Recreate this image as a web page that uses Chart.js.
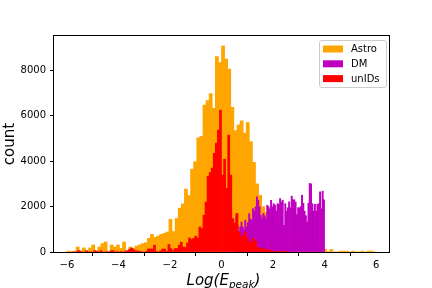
<!DOCTYPE html>
<html><head><meta charset="utf-8">
<script src="https://cdn.jsdelivr.net/npm/chart.js@4.4.0/dist/chart.umd.min.js"></script>
<style>html,body{margin:0;padding:0;background:#fff}#wrap{width:432px;height:288px;position:relative}</style>
</head><body><div id="wrap"><canvas id="c" width="432" height="288"></canvas></div>
<script>
const seriesLabels = ['Astro', 'DM', 'unIDs'];
const seriesColors = ['#FFA500', '#BF00BF', '#FF0000'];

const astroStart = -6.0, astroWidth = 0.12;
const astroCounts = [
  44, 0, 40, 220, 40, 180, 44, 180, 310, 40,
  220, 370, 440, 15, 310, 220, 310, 160, 440, 50,
  220, 160, 260, 310, 370, 410, 600, 780, 650, 700,
  780, 820, 880, 1440, 900, 1480, 1930, 2120, 2770, 2490,
  3650, 3980, 5030, 5100, 6480, 6670, 6980, 6330, 8610, 8350,
  9080, 8500, 8060, 6380, 5350, 5600, 5780, 5240, 5700, 4860,
  3950, 3000, 2500, 2000, 1750, 1500, 1350, 1250, 1150, 1050,
  950, 900, 820, 750, 680, 620, 560, 500, 450, 400,
  350, 300, 250, 120, 20, 110, 0, 0, 40, 40,
  40, 0, 40, 0, 0, 40, 0, 40, 40, 0
];

const dmStart = 0.5, dmWidth = 0.05;
const dmCounts = [
  1000, 1600, 1200, 900, 1100, 1320, 1100, 1000, 1400, 1100,
  1300, 1690, 1450, 1400, 1910, 1800, 1990, 2430, 2280, 2000,
  1620, 1470, 1700, 1600, 1470, 2060, 2000, 1900, 2280, 1990,
  2130, 2060, 1800, 2130, 2100, 2355, 2200, 2280, 1180, 2130,
  1800, 1950, 2210, 1950, 2460, 2300, 2300, 2200, 1650, 1950,
  1950, 2000, 2500, 2150, 1800, 1600, 1320, 2150, 3020, 3000,
  2130, 1800, 2100, 1800, 2100, 2130, 2650, 1900, 2680, 2300
];

const unidsStart = -5.84, unidsWidth = 0.08;
const unidsCounts = [
  0, 0, 0, 60, 40, 0, 0, 60, 0, 0,
  0, 60, 40, 0, 60, 0, 0, 20, 0, 60,
  60, 0, 20, 0, 20, 0, 40, 60, 120, 170,
  100, 50, 50, 30, 0, 0, 30, 130, 130, 130,
  300, 30, 0, 60, 130, 130, 30, 330, 150, 70,
  150, 150, 300, 430, 220, 200, 400, 620, 550, 600,
  700, 620, 1100, 1030, 1620, 2200, 3340, 3500, 3700, 4350,
  4800, 5370, 6250, 3390, 4090, 2800, 5150, 3390, 1470, 1270,
  1700, 880, 660, 750, 880, 620, 440, 440, 600, 470,
  220, 150, 150, 150, 100, 90, 90, 40, 20, 10,
  20, 0, 10, 10, 10
];

const xTicks = [-6, -4, -2, 0, 2, 4, 6];
const yTicks = [0, 2000, 4000, 6000, 8000];
const xRange = [-6.5, 6.5];
const yRange = [0, 9520];
const xTitleMain = 'Log(E', xTitleSub = 'peak', xTitleEnd = ')';
const yTitle = 'count';

function toPoints(start, width, counts) {
  return counts.map((c, i) => ({ x: start + width * (i + 0.5), y: c }));
}

const FONT = '"DejaVu Sans", "Liberation Sans", sans-serif';

const framePlugin = {
  id: 'framePlugin',
  afterDraw(chart) {
    const { ctx, chartArea: a } = chart;
    ctx.save();
    ctx.strokeStyle = '#000';
    ctx.lineWidth = 1;
    ctx.strokeRect(Math.round(a.left) - 0.5, Math.round(a.top) - 0.5,
      Math.round(a.right - a.left) + 1, Math.round(a.bottom - a.top) + 1);

    const bx = a.right - 69.5, by = a.top + 4.5, bw = 67, bh = 47, r = 2.5;
    ctx.beginPath();
    ctx.moveTo(bx + r, by);
    ctx.lineTo(bx + bw - r, by); ctx.quadraticCurveTo(bx + bw, by, bx + bw, by + r);
    ctx.lineTo(bx + bw, by + bh - r); ctx.quadraticCurveTo(bx + bw, by + bh, bx + bw - r, by + bh);
    ctx.lineTo(bx + r, by + bh); ctx.quadraticCurveTo(bx, by + bh, bx, by + bh - r);
    ctx.lineTo(bx, by + r); ctx.quadraticCurveTo(bx, by, bx + r, by);
    ctx.closePath();
    ctx.fillStyle = 'rgba(255,255,255,0.8)';
    ctx.fill();
    ctx.strokeStyle = '#cccccc';
    ctx.stroke();
    ctx.font = '10px ' + FONT;
    ctx.textBaseline = 'middle';
    ctx.textAlign = 'left';
    chart.data.datasets.forEach((ds, i) => {
      const cy = by + 8.5 + i * 14.8;
      ctx.fillStyle = ds.backgroundColor;
      ctx.fillRect(bx + 3.5, cy - 3.5, 20, 7);
      ctx.fillStyle = '#000';
      ctx.fillText(ds.label, bx + 31.5, cy + 0.5);
    });

    const mainFont = 'italic 15px ' + FONT;
    const subFont = 'italic 10.5px ' + FONT;
    ctx.font = mainFont;
    const w1 = ctx.measureText(xTitleMain).width;
    const w3 = ctx.measureText(xTitleEnd).width;
    ctx.font = subFont;
    const w2 = ctx.measureText(xTitleSub).width;
    const total = w1 + w2 + w3;
    let x = (a.left + a.right) / 2 - total / 2 + 2;
    const base = 285;
    ctx.textBaseline = 'alphabetic';
    ctx.fillStyle = '#000';
    ctx.font = mainFont; ctx.fillText(xTitleMain, x, base); x += w1;
    ctx.font = subFont; ctx.fillText(xTitleSub, x, base + 3); x += w2;
    ctx.font = mainFont; ctx.fillText(xTitleEnd, x, base);
    ctx.restore();
  }
};

const commonTicks = { font: { family: FONT, size: 10 }, color: '#000' };
const minusFmt = v => (v < 0 ? '\u2212' + Math.abs(v) : String(v));

new Chart(document.getElementById('c'), {
  type: 'bar',
  data: {
    datasets: [
      { label: seriesLabels[0], data: toPoints(astroStart, astroWidth, astroCounts), backgroundColor: seriesColors[0], xAxisID: 'x', order: 3 },
      { label: seriesLabels[1], data: toPoints(dmStart, dmWidth, dmCounts), backgroundColor: seriesColors[1], xAxisID: 'x2', order: 2 },
      { label: seriesLabels[2], data: toPoints(unidsStart, unidsWidth, unidsCounts), backgroundColor: seriesColors[2], xAxisID: 'x3', order: 1 }
    ]
  },
  options: {
    responsive: false,
    devicePixelRatio: 1,
    animation: false,
    events: [],
    layout: { padding: { left: 0, right: 43, top: 36, bottom: 0 } },
    datasets: { bar: { barPercentage: 1, categoryPercentage: 1, grouped: false, borderWidth: 0 } },
    plugins: { legend: { display: false }, tooltip: { enabled: false } },
    scales: {
      x: {
        type: 'linear', position: 'bottom', min: xRange[0], max: xRange[1], offset: false,
        grid: { display: true, drawOnChartArea: false, drawTicks: true, tickLength: 4, color: '#000', lineWidth: 1 },
        border: { display: false },
        ticks: Object.assign({}, commonTicks, { padding: 3, autoSkip: false, maxRotation: 0, callback: minusFmt }),
        afterBuildTicks: s => { s.ticks = xTicks.map(v => ({ value: v })); },
        afterFit: s => { s.height = 36; }
      },
      x2: { type: 'linear', position: 'bottom', min: xRange[0], max: xRange[1], offset: false, display: false },
      x3: { type: 'linear', position: 'bottom', min: xRange[0], max: xRange[1], offset: false, display: false },
      y: {
        type: 'linear', min: yRange[0], max: yRange[1],
        grid: { display: true, drawOnChartArea: false, drawTicks: true, tickLength: 4, color: '#000', lineWidth: 1 },
        border: { display: false },
        ticks: Object.assign({}, commonTicks, { padding: 4, callback: v => String(v) }),
        afterBuildTicks: s => { s.ticks = yTicks.map(v => ({ value: v })); },
        title: { display: true, text: yTitle, color: '#000', font: { family: FONT, size: 15 }, padding: { top: 1, bottom: 0 } },
        afterFit: s => { s.width = 54; }
      }
    }
  },
  plugins: [framePlugin]
});
</script>
</body></html>
